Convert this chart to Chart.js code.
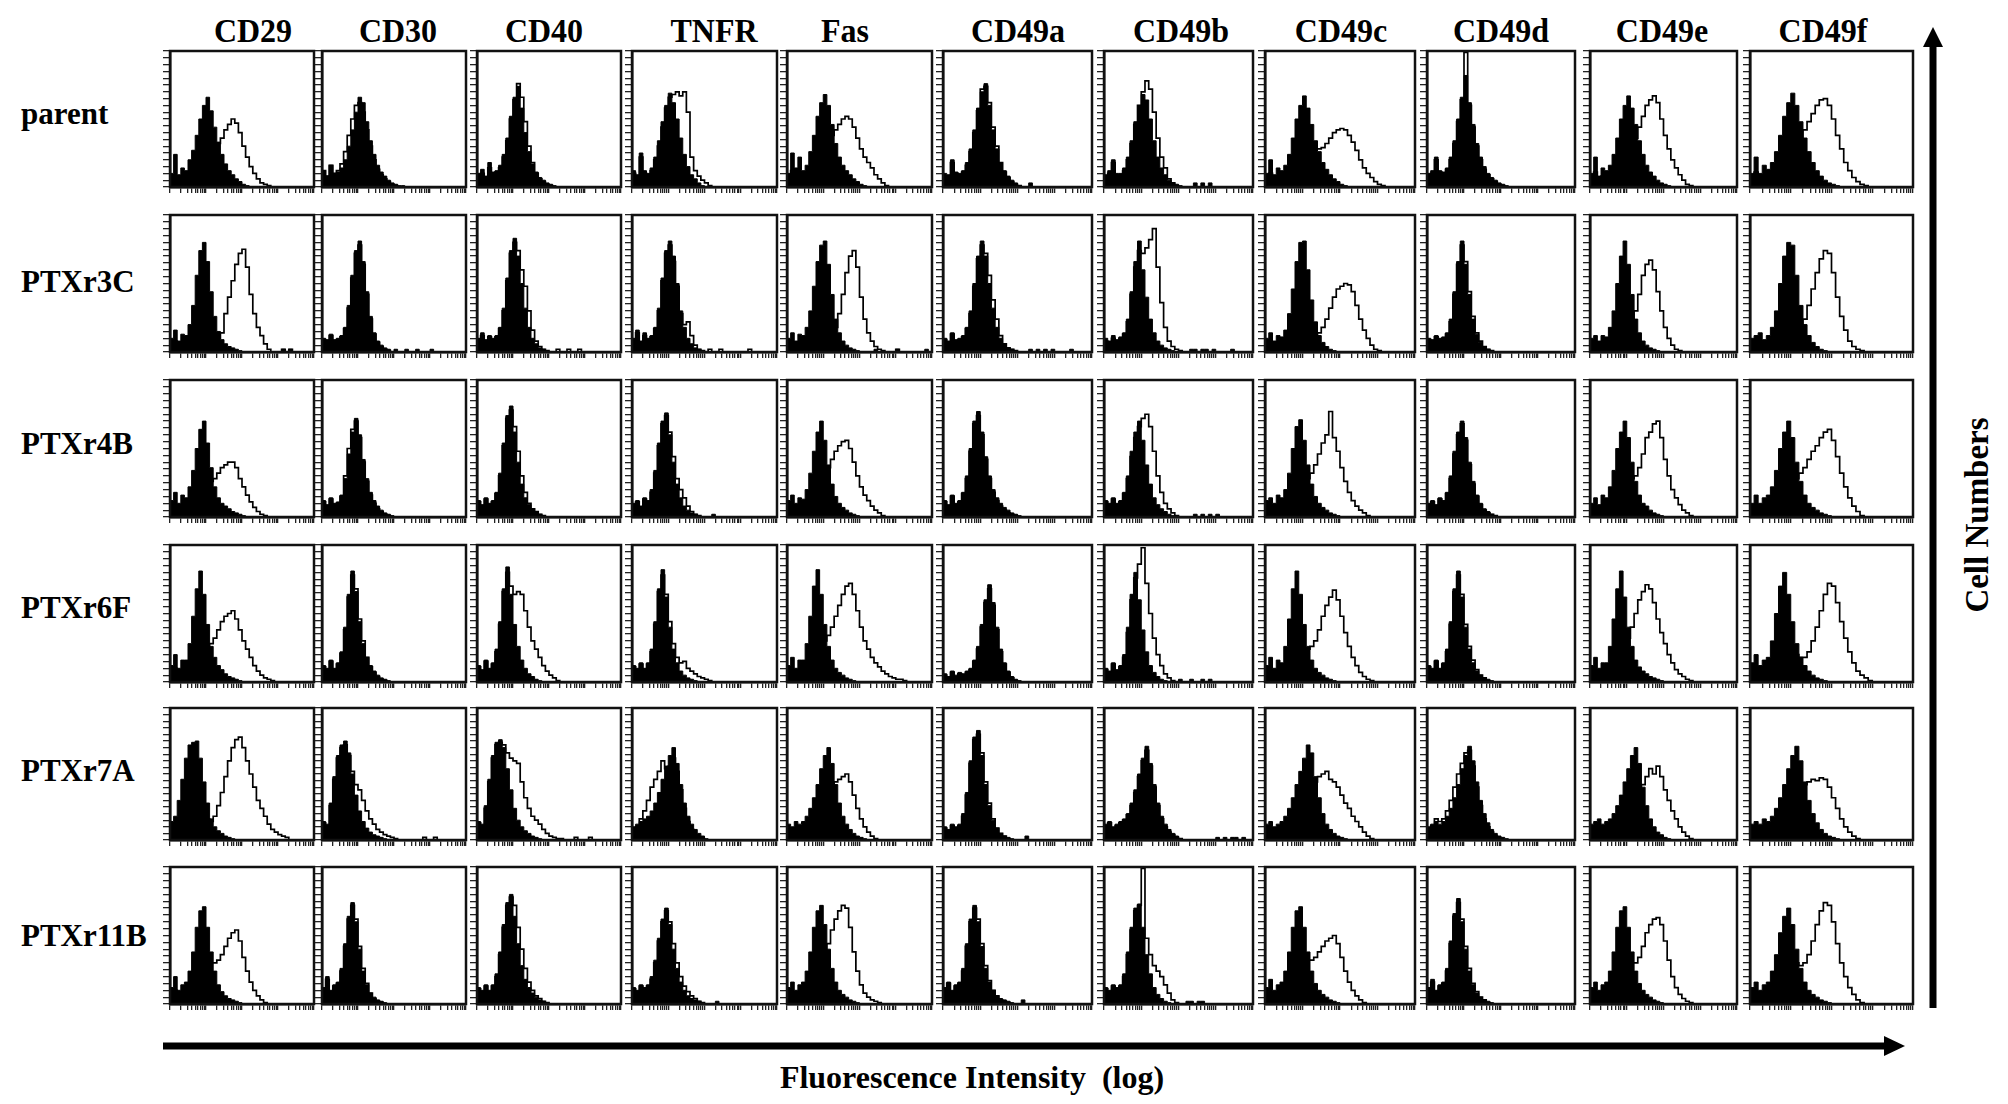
<!DOCTYPE html>
<html><head><meta charset="utf-8">
<script src="https://cdn.jsdelivr.net/npm/chart.js@4.4.1/dist/chart.umd.min.js"></script>
<style>
html,body{margin:0;padding:0;background:#fff;}
#page{position:relative;width:2008px;height:1104px;overflow:hidden;background:#fff;}
.lbl{position:absolute;font-family:"Liberation Serif","Times New Roman",serif;font-weight:bold;font-size:31px;line-height:31px;color:#000;white-space:pre;}
.panel{position:absolute;}
svg{position:absolute;left:0;top:0;}
</style></head>
<body><div id="page"></div>
<script>
// ---------- labels ----------
const markers = ['CD29','CD30','CD40','TNFR','Fas','CD49a','CD49b','CD49c','CD49d','CD49e','CD49f'];
const clones = ['parent','PTXr3C','PTXr4B','PTXr6F','PTXr7A','PTXr11B'];
const xTitle = 'Fluorescence Intensity  (log)';
const yTitle = 'Cell Numbers';
// log axis tick positions (1 .. 10^4, minor ticks 1..9 per decade)
const decades = [1, 10, 100, 1000];
const significands = [1,2,3,4,5,6,7,8,9];
const yTickValues = [0,5,10,15,20,25,30,35,40,45,50,55,60,65,70,75,80,85,90,95,100];
const NBINS = 40; // 0.1 decade per bin, % of panel height

// ---------- data: filled (control) and open (stained) histograms ----------
const filledParent = [
 [10,24,9,14,12,20,27,38,50,60,66,56,44,33,24,17,12,9,6,4,2,1],
 [12,8,16,10,11,14,20,30,42,55,66,62,48,34,24,16,11,8,5,3,2,1,1],
 [10,13,8,18,11,12,16,24,36,52,66,74,58,40,26,17,11,7,5,3,2,1],
 [12,9,25,12,10,14,22,34,48,60,69,62,50,36,24,15,9,6,3,1],
 [10,25,14,22,12,16,26,38,52,62,68,60,46,32,22,16,12,9,6,4,2,1],
 [10,9,20,11,10,12,18,28,42,58,70,76,60,42,28,18,12,8,5,3,1,0,0,3],
 [9,12,20,10,10,14,22,34,48,60,68,64,50,34,22,14,9,5,3,2,1,0,0,0,3,0,3,0,3],
 [10,20,9,14,12,16,24,36,50,60,67,58,46,34,26,18,13,9,6,4,2,1],
 [10,12,22,12,11,14,22,34,50,66,82,62,46,32,22,15,10,7,5,3,2,1],
 [10,22,8,14,12,16,24,36,50,60,67,58,46,34,24,16,11,8,5,3,2,1],
 [10,22,10,16,13,18,26,38,52,62,69,60,48,36,26,18,12,8,5,3,2,1]
];
const openParent = [
 [5,8,4,6,5,7,9,11,14,17,20,24,28,32,36,42,46,50,47,40,30,22,15,10,6,3,2,1],
 [12,8,16,10,12,17,26,38,50,60,62,55,42,30,20,13,9,6,4,2,1],
 [8,10,7,14,10,11,14,22,34,50,64,76,66,48,30,18,10,6,4,2,1],
 [10,8,22,10,9,12,20,30,44,58,66,68,70,67,70,55,22,12,8,5,3,1],
 [6,12,8,10,7,9,12,16,20,24,28,33,38,42,46,50,52,50,44,36,28,22,18,14,9,6,3,1],
 [8,8,18,10,9,11,16,26,40,56,72,74,62,44,30,18,11,7,4,2,1],
 [8,10,18,9,9,12,20,32,46,60,70,78,72,55,36,22,14,6,3,1],
 [6,10,6,8,7,9,12,15,18,22,25,26,27,28,28,29,32,36,40,42,43,42,38,33,27,20,14,10,7,4,2,1],
 [8,10,20,11,10,13,20,32,48,64,99,60,44,30,20,13,9,6,4,2,1],
 [6,11,5,8,7,9,12,15,18,22,26,30,36,44,52,60,64,67,62,50,38,28,20,14,9,5,2,1],
 [6,11,6,8,7,9,12,15,18,22,26,30,36,42,48,54,60,64,65,60,50,38,28,18,12,7,4,2,1]
];
const filledPTXr3C = [
 [10,16,8,13,12,20,34,56,74,80,66,44,26,15,9,6,4,3,2,1,0,0,0,0,0,0,0,0,0,0,0,2,0,2],
 [10,9,13,9,10,12,18,34,56,74,81,66,44,26,14,8,5,3,2,0,2,0,0,2,0,0,2,0,0,0,2],
 [10,14,9,12,10,12,18,32,54,74,83,70,50,32,18,10,6,3,2],
 [10,16,8,14,10,12,18,32,54,74,81,70,50,30,18,10,6,3,2,1],
 [10,14,8,13,12,18,30,48,66,78,81,64,42,24,14,8,5,3,2,1,0,0,0,0,2,0,0,0,0,0,2,0,0,0,0,0,0,0,2],
 [10,8,14,9,10,12,18,30,50,70,81,70,50,32,18,10,6,3,2,1,0,0,0,2,0,2,0,2,0,2,0,0,0,0,2],
 [10,8,12,9,11,14,24,44,66,81,60,40,24,14,8,5,3,2,1,0,0,0,0,2,2,0,2,2,0,2,0,0,0,0,2],
 [10,14,8,12,11,16,28,46,66,80,81,60,38,22,12,7,4,2,1],
 [10,9,12,10,11,14,24,44,66,81,64,42,24,13,7,4,2,1],
 [10,12,8,12,11,18,30,50,70,81,64,42,24,14,8,5,3,2,1],
 [10,12,14,9,12,18,30,50,70,80,78,56,34,20,12,7,4,2,1]
];
const openPTXr3C = [
 [5,8,4,6,6,8,10,12,14,12,10,9,9,10,14,28,40,52,64,72,75,62,42,28,18,12,6,2,0,0,0,2,0,2],
 [9,8,12,8,9,11,17,32,54,72,78,64,42,24,13,7,4,2,1],
 [9,12,8,11,9,11,17,30,52,72,80,74,60,48,30,16,8,4,2,1,0,0,2,0,0,2,0,0,2],
 [9,14,7,12,9,11,17,30,52,72,78,66,48,28,20,22,12,5,2,1,0,2,0,0,2,0,0,0,0,0,0,0,2],
 [5,7,4,6,6,8,10,14,18,20,18,16,15,18,28,42,58,70,74,62,40,24,14,8,4,2,1,0,0,0,2],
 [9,7,13,8,9,11,17,28,48,68,78,72,56,38,24,12,6,3,2,1],
 [8,7,10,8,10,13,22,42,62,74,72,76,82,90,62,36,18,8,4,2,1],
 [5,7,4,6,6,8,12,16,20,18,16,14,13,12,14,18,24,32,40,46,48,50,49,44,34,24,16,10,5,2,1],
 [9,8,11,9,10,13,22,42,64,78,66,44,26,14,8,4,2,1],
 [5,6,4,6,6,9,14,20,24,22,20,22,30,42,56,64,67,60,44,30,18,10,5,2,1],
 [5,6,7,5,6,9,14,20,24,22,18,16,18,24,34,46,58,68,74,72,58,40,26,16,8,4,2,1]
];
const filledPTXr4B = [
 [12,18,10,16,14,22,34,50,64,70,54,36,22,14,10,8,6,4,3,2,1],
 [12,9,14,10,11,16,28,46,62,72,60,42,28,18,12,8,5,3,2,1],
 [12,9,14,10,12,18,32,54,74,81,62,40,24,14,9,6,4,2,1],
 [10,12,8,14,12,20,34,54,70,76,60,40,24,14,8,5,3,2,1,0,0,0,2],
 [12,16,10,14,13,20,32,48,62,70,56,38,24,15,10,7,5,3,2,1],
 [12,9,16,10,12,18,30,50,70,77,62,44,30,20,14,10,7,5,3,2,1],
 [12,10,14,10,12,18,30,48,62,70,56,38,24,14,9,6,4,2,1,0,0,0,0,0,2,0,2,0,2,0,2],
 [12,14,10,16,14,20,32,50,66,71,56,38,24,15,10,7,5,3,2,1],
 [10,12,9,14,12,18,30,48,62,70,58,40,26,16,10,6,4,2,1],
 [10,14,9,16,14,22,34,50,62,70,58,40,26,16,10,8,5,3,2,1],
 [10,16,10,14,16,22,34,50,62,70,58,40,26,16,10,7,5,3,2,1]
];
const openPTXr4B = [
 [6,9,5,8,7,11,16,20,22,22,24,26,28,32,36,38,40,40,36,28,22,16,11,7,4,2,1],
 [11,8,13,9,10,15,30,50,64,70,58,40,26,16,10,6,4,2,1],
 [11,8,13,9,11,17,30,52,72,78,66,48,30,18,10,6,4,2,1],
 [9,11,7,13,11,18,32,52,68,74,62,44,28,20,14,8,4,2,1],
 [6,8,5,7,6,10,14,18,22,26,30,36,42,48,52,55,56,50,40,30,22,16,12,8,5,3,1],
 [11,8,15,9,11,17,28,48,68,74,60,42,28,18,12,8,5,3,2,1],
 [11,9,13,9,11,17,28,44,58,66,72,75,66,48,30,18,10,6,3,1],
 [6,7,5,8,7,10,14,18,22,24,26,28,32,38,46,54,60,77,58,48,36,26,18,12,8,5,3,1],
 [9,11,8,13,11,17,28,46,60,68,56,38,24,15,9,5,3,2,1],
 [5,7,4,8,7,11,16,20,22,24,26,28,30,36,46,58,62,68,70,58,42,30,20,14,9,5,3,1],
 [5,8,5,7,8,11,16,20,22,24,26,28,32,36,42,48,52,58,62,64,56,44,32,22,14,8,4,1]
];
const filledPTXr6F = [
 [12,20,10,16,16,28,48,68,81,64,42,26,18,12,9,6,4,3,2,1],
 [12,10,16,10,14,22,40,64,81,66,44,28,18,12,8,5,3,2,1],
 [12,9,16,10,14,24,44,68,84,64,42,26,16,10,6,4,2,1],
 [12,10,14,10,14,24,44,68,82,62,40,24,14,8,5,3,2,1],
 [12,18,10,16,16,28,48,70,82,64,42,26,16,10,7,5,3,2,1],
 [6,4,8,5,7,6,8,10,16,26,42,60,71,58,40,24,14,8,4,2,1],
 [10,8,14,9,12,20,40,64,80,60,38,22,12,7,4,2,1,0,0,0,2,0,0,2,0,0,2,0,2],
 [12,18,10,16,14,26,46,68,81,64,42,26,16,10,7,5,3,2,1],
 [12,10,16,10,14,24,44,68,81,62,40,24,14,8,5,3,2,1],
 [12,18,10,14,14,26,46,68,81,62,40,26,16,11,8,6,4,3,2,1],
 [14,20,12,16,18,30,50,70,80,64,44,28,18,12,8,5,3,2,1]
];
const openPTXr6F = [
 [6,10,5,8,8,14,22,28,30,28,26,28,32,38,44,48,50,52,46,38,30,24,18,12,8,5,3,2,1],
 [11,9,15,9,13,21,38,62,78,68,46,30,18,11,7,4,2,1],
 [11,8,15,9,13,22,42,66,80,70,64,66,64,52,40,30,24,18,12,8,5,3,1],
 [11,9,13,9,13,22,42,66,78,64,44,28,18,14,15,10,8,6,4,3,2,1],
 [6,9,5,8,8,14,22,30,34,32,30,34,40,48,56,64,70,72,64,52,40,30,24,18,14,11,8,6,4,3,2,2,1],
 [5,3,7,4,6,5,7,9,15,24,40,58,68,56,38,22,13,7,3,1],
 [9,7,13,8,11,18,36,60,76,86,98,72,50,32,20,12,6,3,1],
 [6,9,5,8,7,13,20,26,28,26,24,24,26,30,38,48,56,62,67,60,48,36,26,18,12,7,4,2,1],
 [11,9,15,9,13,22,42,66,78,64,42,26,16,9,5,3,1],
 [6,9,5,7,7,13,20,26,28,28,32,40,50,60,66,71,68,58,46,36,28,20,14,9,6,4,2,1],
 [7,10,6,8,9,15,22,28,30,28,24,20,18,18,22,30,40,52,64,72,70,58,44,32,22,14,8,5,3,1]
];
const filledPTXr7A = [
 [14,18,30,46,62,72,74,75,62,44,28,16,10,7,5,3,2,1],
 [14,12,28,48,64,72,75,66,50,34,22,14,9,6,4,3,2,1],
 [14,12,26,46,64,74,76,70,54,38,24,15,10,7,5,3,2,1],
 [10,12,14,16,18,22,28,36,46,56,64,70,58,42,28,18,12,8,5,3,1],
 [12,10,14,12,14,18,24,32,42,54,64,70,58,42,28,18,12,8,5,3,2,1],
 [10,8,12,10,12,20,36,60,78,83,64,42,26,15,9,5,3,2,1,0,0,0,3],
 [12,14,10,12,14,16,20,28,38,50,62,71,58,42,28,18,12,8,5,3,1,0,0,0,0,0,0,0,0,0,2,0,2,0,2,2,0,2],
 [12,14,10,12,14,18,24,32,42,52,62,72,66,48,32,20,12,8,5,3,2,1],
 [10,12,14,12,14,18,24,32,42,54,64,71,60,44,30,20,13,8,5,3,2,1],
 [12,14,16,12,14,16,20,26,34,44,54,64,70,58,40,26,16,10,6,4,2,1],
 [12,14,12,16,14,18,24,32,42,54,64,71,60,44,30,20,13,8,5,3,2,1]
];
const openPTXr7A = [
 [7,9,15,23,31,36,37,38,31,22,16,14,18,26,36,48,60,70,76,78,70,60,50,40,30,24,18,12,8,6,4,3,2],
 [13,11,26,46,62,70,72,64,52,42,38,30,22,16,12,8,6,4,3,2,1,0,0,0,0,0,0,0,2,0,0,2],
 [13,11,24,44,62,72,74,72,66,62,60,58,44,32,24,18,15,12,8,5,3,2,1,1,0,0,0,2,0,0,0,2],
 [8,10,16,22,30,40,46,52,60,54,56,62,52,38,24,14,8,4,2,1],
 [6,5,7,6,7,9,12,16,21,27,32,36,40,44,46,48,50,44,34,24,16,10,6,3,1],
 [9,7,11,9,11,18,34,58,76,80,66,44,28,16,9,5,3,1],
 [11,13,9,11,13,15,19,26,36,48,60,68,56,40,26,16,10,6,4,2,1],
 [6,7,5,6,7,9,12,16,21,26,31,36,40,44,48,50,52,46,44,40,34,28,24,18,14,10,6,3,1],
 [9,11,16,14,16,22,30,40,50,58,66,68,56,40,26,16,10,6,3,1],
 [6,7,8,6,7,8,10,13,17,22,27,32,35,38,42,48,54,50,56,48,38,30,22,16,10,6,3,1],
 [6,7,6,8,7,9,12,16,21,27,32,36,40,42,44,46,45,47,46,40,32,24,16,10,6,3,1]
];
const filledPTXr11B = [
 [12,20,10,14,16,24,38,56,68,71,56,38,24,14,9,6,4,3,2,1],
 [12,20,10,14,16,26,44,64,74,60,40,24,14,8,5,3,2,1],
 [12,10,14,10,14,22,38,58,74,80,64,44,28,18,12,8,5,3,2,1],
 [12,10,14,12,14,20,32,48,62,70,58,40,26,16,10,6,4,3,2,1,0,0,0,2],
 [12,16,10,14,16,24,38,56,68,72,58,40,26,16,10,7,5,3,2,1],
 [12,16,10,14,16,26,44,62,72,60,42,26,16,10,6,4,3,2,1,0,0,3],
 [12,10,14,12,14,22,38,56,70,73,56,36,22,12,7,4,2,1,0,0,0,0,2,2,0,2,2],
 [12,18,10,14,16,24,38,56,68,71,56,38,24,15,10,7,5,3,2,1],
 [12,18,10,14,16,26,46,66,77,60,40,24,14,8,5,3,2,1],
 [12,16,10,14,16,24,38,56,68,71,56,38,24,15,10,7,5,3,2,1],
 [12,16,10,14,16,24,36,52,64,70,58,40,26,16,10,7,5,3,2,1]
];
const openPTXr11B = [
 [6,10,5,7,8,12,19,28,34,36,32,30,30,32,36,42,48,52,54,46,34,24,16,10,6,3,1],
 [11,18,9,13,15,24,42,62,72,62,42,26,15,8,4,2,1],
 [11,9,13,9,13,20,36,56,72,78,72,56,40,26,16,10,6,4,2,1],
 [11,9,13,11,13,18,30,46,60,68,60,44,30,20,13,9,6,4,2,1],
 [6,8,5,7,8,12,19,28,34,38,38,44,54,62,68,72,70,56,38,24,14,8,5,3,2,1],
 [11,15,9,13,15,24,42,60,70,62,44,28,17,10,6,3,2,1],
 [11,9,13,11,13,20,36,54,68,72,99,48,36,28,24,20,14,8,3,1],
 [6,9,5,7,8,12,19,28,34,36,34,32,32,34,38,42,46,48,50,44,34,24,16,10,6,3,1],
 [11,16,9,13,15,24,44,64,74,62,42,26,15,9,5,3,1],
 [6,8,5,7,8,12,19,28,34,36,34,30,30,34,42,52,58,62,63,58,46,32,20,12,7,4,2,1],
 [6,8,5,7,8,12,18,26,32,35,34,30,28,30,36,46,58,68,74,72,60,44,30,20,12,7,3,1]
];
const filledRows = [filledParent, filledPTXr3C, filledPTXr4B, filledPTXr6F, filledPTXr7A, filledPTXr11B];
const openRows = [openParent, openPTXr3C, openPTXr4B, openPTXr6F, openPTXr7A, openPTXr11B];

// ---------- layout (page pixels) ----------
const colL = [170, 322, 477, 632, 787, 943, 1104, 1265, 1427, 1590, 1750];
const colR = [314, 466, 621, 777, 932, 1092, 1253, 1415, 1575, 1737, 1913];
const rowT = [51, 215, 380, 545, 708, 867];
const rowB = [187, 352, 517, 682, 840, 1004];
const headerCenter = [253, 398, 544, 714, 845, 1018, 1181, 1341, 1501, 1662, 1823];
const rowLabelCenter = [117, 282, 444, 608, 771, 936];
const TY = 7, TX = 6, PAD = 2;

const page = document.getElementById('page');
function addText(txt, css) {
  const d = document.createElement('div');
  d.className = 'lbl';
  d.textContent = txt;
  Object.assign(d.style, css);
  page.appendChild(d);
  return d;
}
markers.forEach((m, c) => {
  addText(m, {left: headerCenter[c] + 'px', top: '14px', fontSize: '32px', lineHeight: '32px',
              transform: 'translateX(-50%) scaleY(1.06)'});
});
clones.forEach((n, r) => {
  const off = (r === 0) ? 19 : 16;
  addText(n, {left: '21px', top: (rowLabelCenter[r] - off) + 'px'});
});
addText(xTitle, {left: '972px', top: '1061px', fontSize: '32px', lineHeight: '32px', transform: 'translateX(-50%)'});
addText(yTitle, {left: '1977px', top: '515px', fontSize: '33px', lineHeight: '33px', transform: 'translate(-50%,-50%) rotate(-90deg)'});

// arrows
const svgNS = 'http://www.w3.org/2000/svg';
const svg = document.createElementNS(svgNS, 'svg');
svg.setAttribute('width', '2008'); svg.setAttribute('height', '1104');
svg.innerHTML =
  '<line x1="163" y1="1046" x2="1886" y2="1046" stroke="#000" stroke-width="7"/>' +
  '<polygon points="1884,1036 1905,1046 1884,1056" fill="#000"/>' +
  '<line x1="1933" y1="1008" x2="1933" y2="45" stroke="#000" stroke-width="7"/>' +
  '<polygon points="1923,47 1933,27 1943,47" fill="#000"/>';
page.appendChild(svg);

// ---------- charts ----------
const binLabels = Array.from({length: NBINS + 1}, (_, i) => i);
const logTicks = [];
decades.forEach(d => significands.forEach(s => logTicks.push(s * d)));
logTicks.push(10000);
const pad = a => binLabels.map(i => (a[i] !== undefined ? a[i] : 0));

const framePlugin = {
  id: 'frame',
  afterDraw(chart) {
    const {ctx, chartArea: a} = chart;
    ctx.save();
    ctx.strokeStyle = '#111';
    ctx.lineWidth = 2.5;
    ctx.strokeRect(a.left, a.top, a.right - a.left, a.bottom - a.top);
    ctx.restore();
  }
};

for (let r = 0; r < clones.length; r++) {
  for (let c = 0; c < markers.length; c++) {
    const w = colR[c] - colL[c] + TY + PAD;
    const h = rowB[r] - rowT[r] + TX + PAD;
    const div = document.createElement('div');
    div.className = 'panel';
    div.style.left = (colL[c] - TY) + 'px';
    div.style.top = (rowT[r] - PAD) + 'px';
    div.style.width = w + 'px';
    div.style.height = h + 'px';
    const cv = document.createElement('canvas');
    cv.width = w; cv.height = h;
    cv.style.width = w + 'px'; cv.style.height = h + 'px';
    div.appendChild(cv);
    page.appendChild(div);
    new Chart(cv, {
      type: 'line',
      data: {
        labels: binLabels,
        datasets: [
          {data: pad(openRows[r][c]), stepped: true, borderColor: '#000', borderWidth: 1.7,
           pointRadius: 0, fill: false, order: 0},
          {data: pad(filledRows[r][c]), stepped: true, borderColor: '#000', backgroundColor: '#000',
           borderWidth: 1, pointRadius: 0, fill: 'origin', order: 1}
        ]
      },
      options: {
        responsive: false, animation: false, devicePixelRatio: 1, events: [],
        layout: {padding: {top: PAD, right: PAD, left: 0, bottom: 0}},
        plugins: {legend: {display: false}, tooltip: {enabled: false}},
        scales: {
          x: {type: 'category', display: false, offset: false},
          xl: {type: 'logarithmic', position: 'bottom', min: 1, max: 10000,
               afterBuildTicks: s => { s.ticks = logTicks.map(v => ({value: v})); },
               ticks: {display: false, autoSkip: false},
               grid: {drawOnChartArea: false, drawTicks: true, tickLength: TX, color: '#222', lineWidth: 1.3},
               border: {display: true, color: '#111', width: 2.5}},
          y: {type: 'linear', min: 0, max: 100,
              afterBuildTicks: s => { s.ticks = yTickValues.map(v => ({value: v})); },
              ticks: {display: false, autoSkip: false},
              grid: {drawOnChartArea: false, drawTicks: true, tickLength: TY, color: '#222', lineWidth: 1.3},
              border: {display: true, color: '#111', width: 2.5}}
        }
      },
      plugins: [framePlugin]
    });
  }
}
</script>
</body></html>
